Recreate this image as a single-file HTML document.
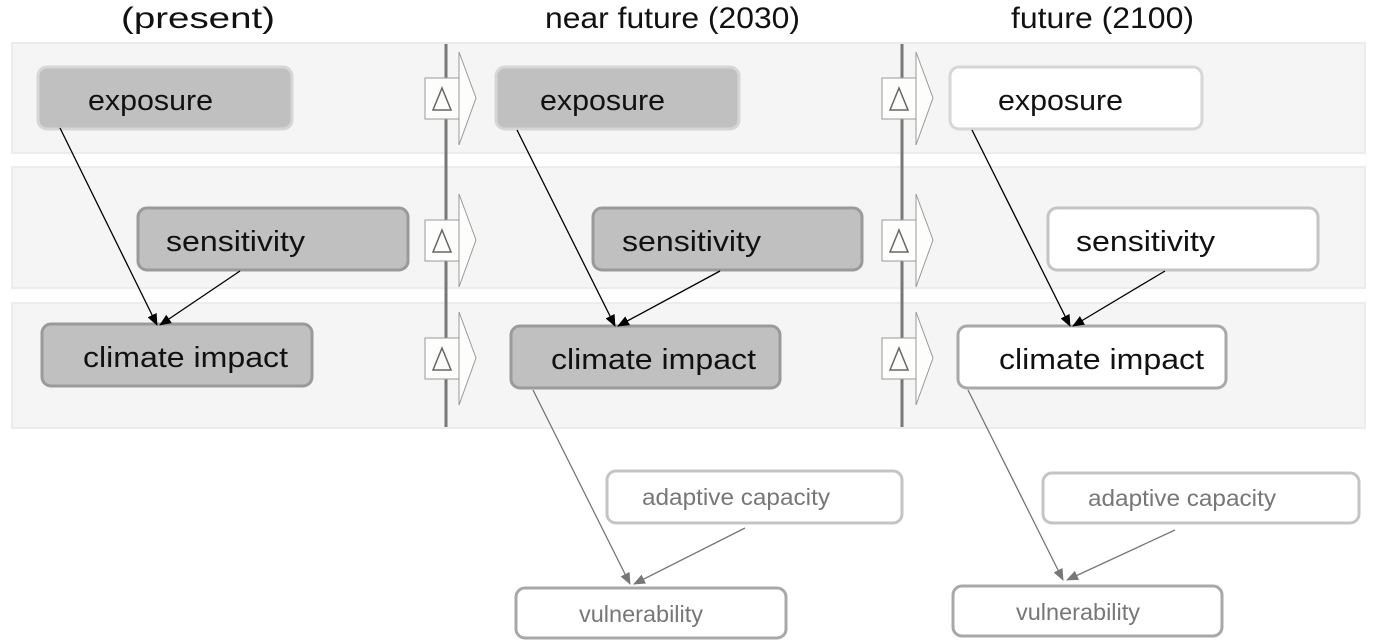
<!DOCTYPE html>
<html><head><meta charset="utf-8"><style>body{margin:0;background:#fff}svg{display:block}</style></head><body>
<svg width="1387" height="641" viewBox="0 0 1387 641" xmlns="http://www.w3.org/2000/svg" font-family="Liberation Sans, sans-serif">
<defs>
<marker id="ab" markerWidth="12" markerHeight="10" refX="11" refY="5" orient="auto" markerUnits="userSpaceOnUse"><path d="M0,0 L12,5 L0,10 Z" fill="#000"/></marker>
<marker id="ag" markerWidth="12" markerHeight="10" refX="11" refY="5" orient="auto" markerUnits="userSpaceOnUse"><path d="M0,0 L12,5 L0,10 Z" fill="#777"/></marker>
</defs>
<g font-size="30" fill="#111">
<text x="121" y="28" textLength="154" lengthAdjust="spacingAndGlyphs">(present)</text>
<text x="545" y="28" textLength="255" lengthAdjust="spacingAndGlyphs">near future (2030)</text>
<text x="1011" y="28" textLength="183" lengthAdjust="spacingAndGlyphs">future (2100)</text>
</g>
<g fill="#f5f5f5" stroke="#ececec" stroke-width="2">
<rect x="12" y="43" width="1353" height="110"/>
<rect x="12" y="167" width="1353" height="121"/>
<rect x="12" y="303" width="1353" height="125"/>
</g>
<g stroke="#777" stroke-width="3">
<line x1="446" y1="44" x2="446" y2="427"/>
<line x1="902" y1="44" x2="902" y2="427"/>
</g>
<g id="arr" fill="#fdfdfb" stroke="#999" stroke-width="1">
<path d="M459,52 L476,98 L459,145 Z"/>
<rect x="425" y="78" width="34" height="41"/>
<path d="M442,88 L451,110 L433,110 Z" fill="none" stroke="#666" stroke-width="1.5"/>
</g>
<use href="#arr" y="142"/><use href="#arr" y="260"/>
<use href="#arr" x="457"/><use href="#arr" x="457" y="142"/><use href="#arr" x="457" y="260"/>
<g font-size="29" fill="#111">
<rect x="38" y="67" width="254" height="62" rx="9" fill="#c0c0c0" stroke="#d6d6d6" stroke-width="3"/>
<text x="88" y="110" textLength="125" lengthAdjust="spacingAndGlyphs">exposure</text>
<rect x="138" y="208" width="270" height="62" rx="9" fill="#c0c0c0" stroke="#9a9a9a" stroke-width="3"/>
<text x="166" y="251" textLength="139" lengthAdjust="spacingAndGlyphs">sensitivity</text>
<rect x="42" y="324" width="270" height="62" rx="9" fill="#c0c0c0" stroke="#9a9a9a" stroke-width="3"/>
<text x="83" y="367" textLength="205" lengthAdjust="spacingAndGlyphs">climate impact</text>
<rect x="496" y="67" width="243" height="62" rx="9" fill="#c0c0c0" stroke="#d6d6d6" stroke-width="3"/>
<text x="540" y="110" textLength="125" lengthAdjust="spacingAndGlyphs">exposure</text>
<rect x="593" y="208" width="269" height="62" rx="9" fill="#c0c0c0" stroke="#9a9a9a" stroke-width="3"/>
<text x="622" y="251" textLength="139" lengthAdjust="spacingAndGlyphs">sensitivity</text>
<rect x="511" y="326" width="269" height="62" rx="9" fill="#c0c0c0" stroke="#9a9a9a" stroke-width="3"/>
<text x="551" y="369" textLength="205" lengthAdjust="spacingAndGlyphs">climate impact</text>
<rect x="950" y="67" width="252" height="62" rx="9" fill="#fff" stroke="#d6d6d6" stroke-width="3"/>
<text x="998" y="110" textLength="125" lengthAdjust="spacingAndGlyphs">exposure</text>
<rect x="1048" y="208" width="270" height="62" rx="9" fill="#fff" stroke="#c4c4c4" stroke-width="3"/>
<text x="1076" y="251" textLength="139" lengthAdjust="spacingAndGlyphs">sensitivity</text>
<rect x="958" y="326" width="268" height="62" rx="9" fill="#fff" stroke="#a8a8a8" stroke-width="3"/>
<text x="999" y="369" textLength="205" lengthAdjust="spacingAndGlyphs">climate impact</text>
</g>
<g font-size="23" fill="#777">
<rect x="607" y="471" width="295" height="52" rx="9" fill="#fff" stroke="#c4c4c4" stroke-width="3"/>
<text x="642" y="505" textLength="188" lengthAdjust="spacingAndGlyphs">adaptive capacity</text>
<rect x="1043" y="473" width="316" height="50" rx="9" fill="#fff" stroke="#c4c4c4" stroke-width="3"/>
<text x="1088" y="506" textLength="188" lengthAdjust="spacingAndGlyphs">adaptive capacity</text>
<rect x="516" y="588" width="270" height="50" rx="9" fill="#fff" stroke="#a8a8a8" stroke-width="3"/>
<text x="579" y="622" textLength="124" lengthAdjust="spacingAndGlyphs">vulnerability</text>
<rect x="953" y="586" width="269" height="50" rx="9" fill="#fff" stroke="#a8a8a8" stroke-width="3"/>
<text x="1016" y="620" textLength="124" lengthAdjust="spacingAndGlyphs">vulnerability</text>
</g>
<g stroke="#000" stroke-width="1.3" marker-end="url(#ab)">
<line x1="60" y1="128" x2="157" y2="325"/>
<line x1="240" y1="271" x2="160" y2="325"/>
<line x1="517" y1="130" x2="615" y2="326"/>
<line x1="720" y1="271" x2="618" y2="326"/>
<line x1="972" y1="130" x2="1070" y2="326"/>
<line x1="1165" y1="271" x2="1073" y2="326"/>
</g>
<g stroke="#777" stroke-width="1.3" marker-end="url(#ag)">
<line x1="533" y1="390" x2="630" y2="584"/>
<line x1="745" y1="528" x2="634" y2="584"/>
<line x1="968" y1="390" x2="1063" y2="580"/>
<line x1="1175" y1="530" x2="1067" y2="580"/>
</g>
</svg>
</body></html>
